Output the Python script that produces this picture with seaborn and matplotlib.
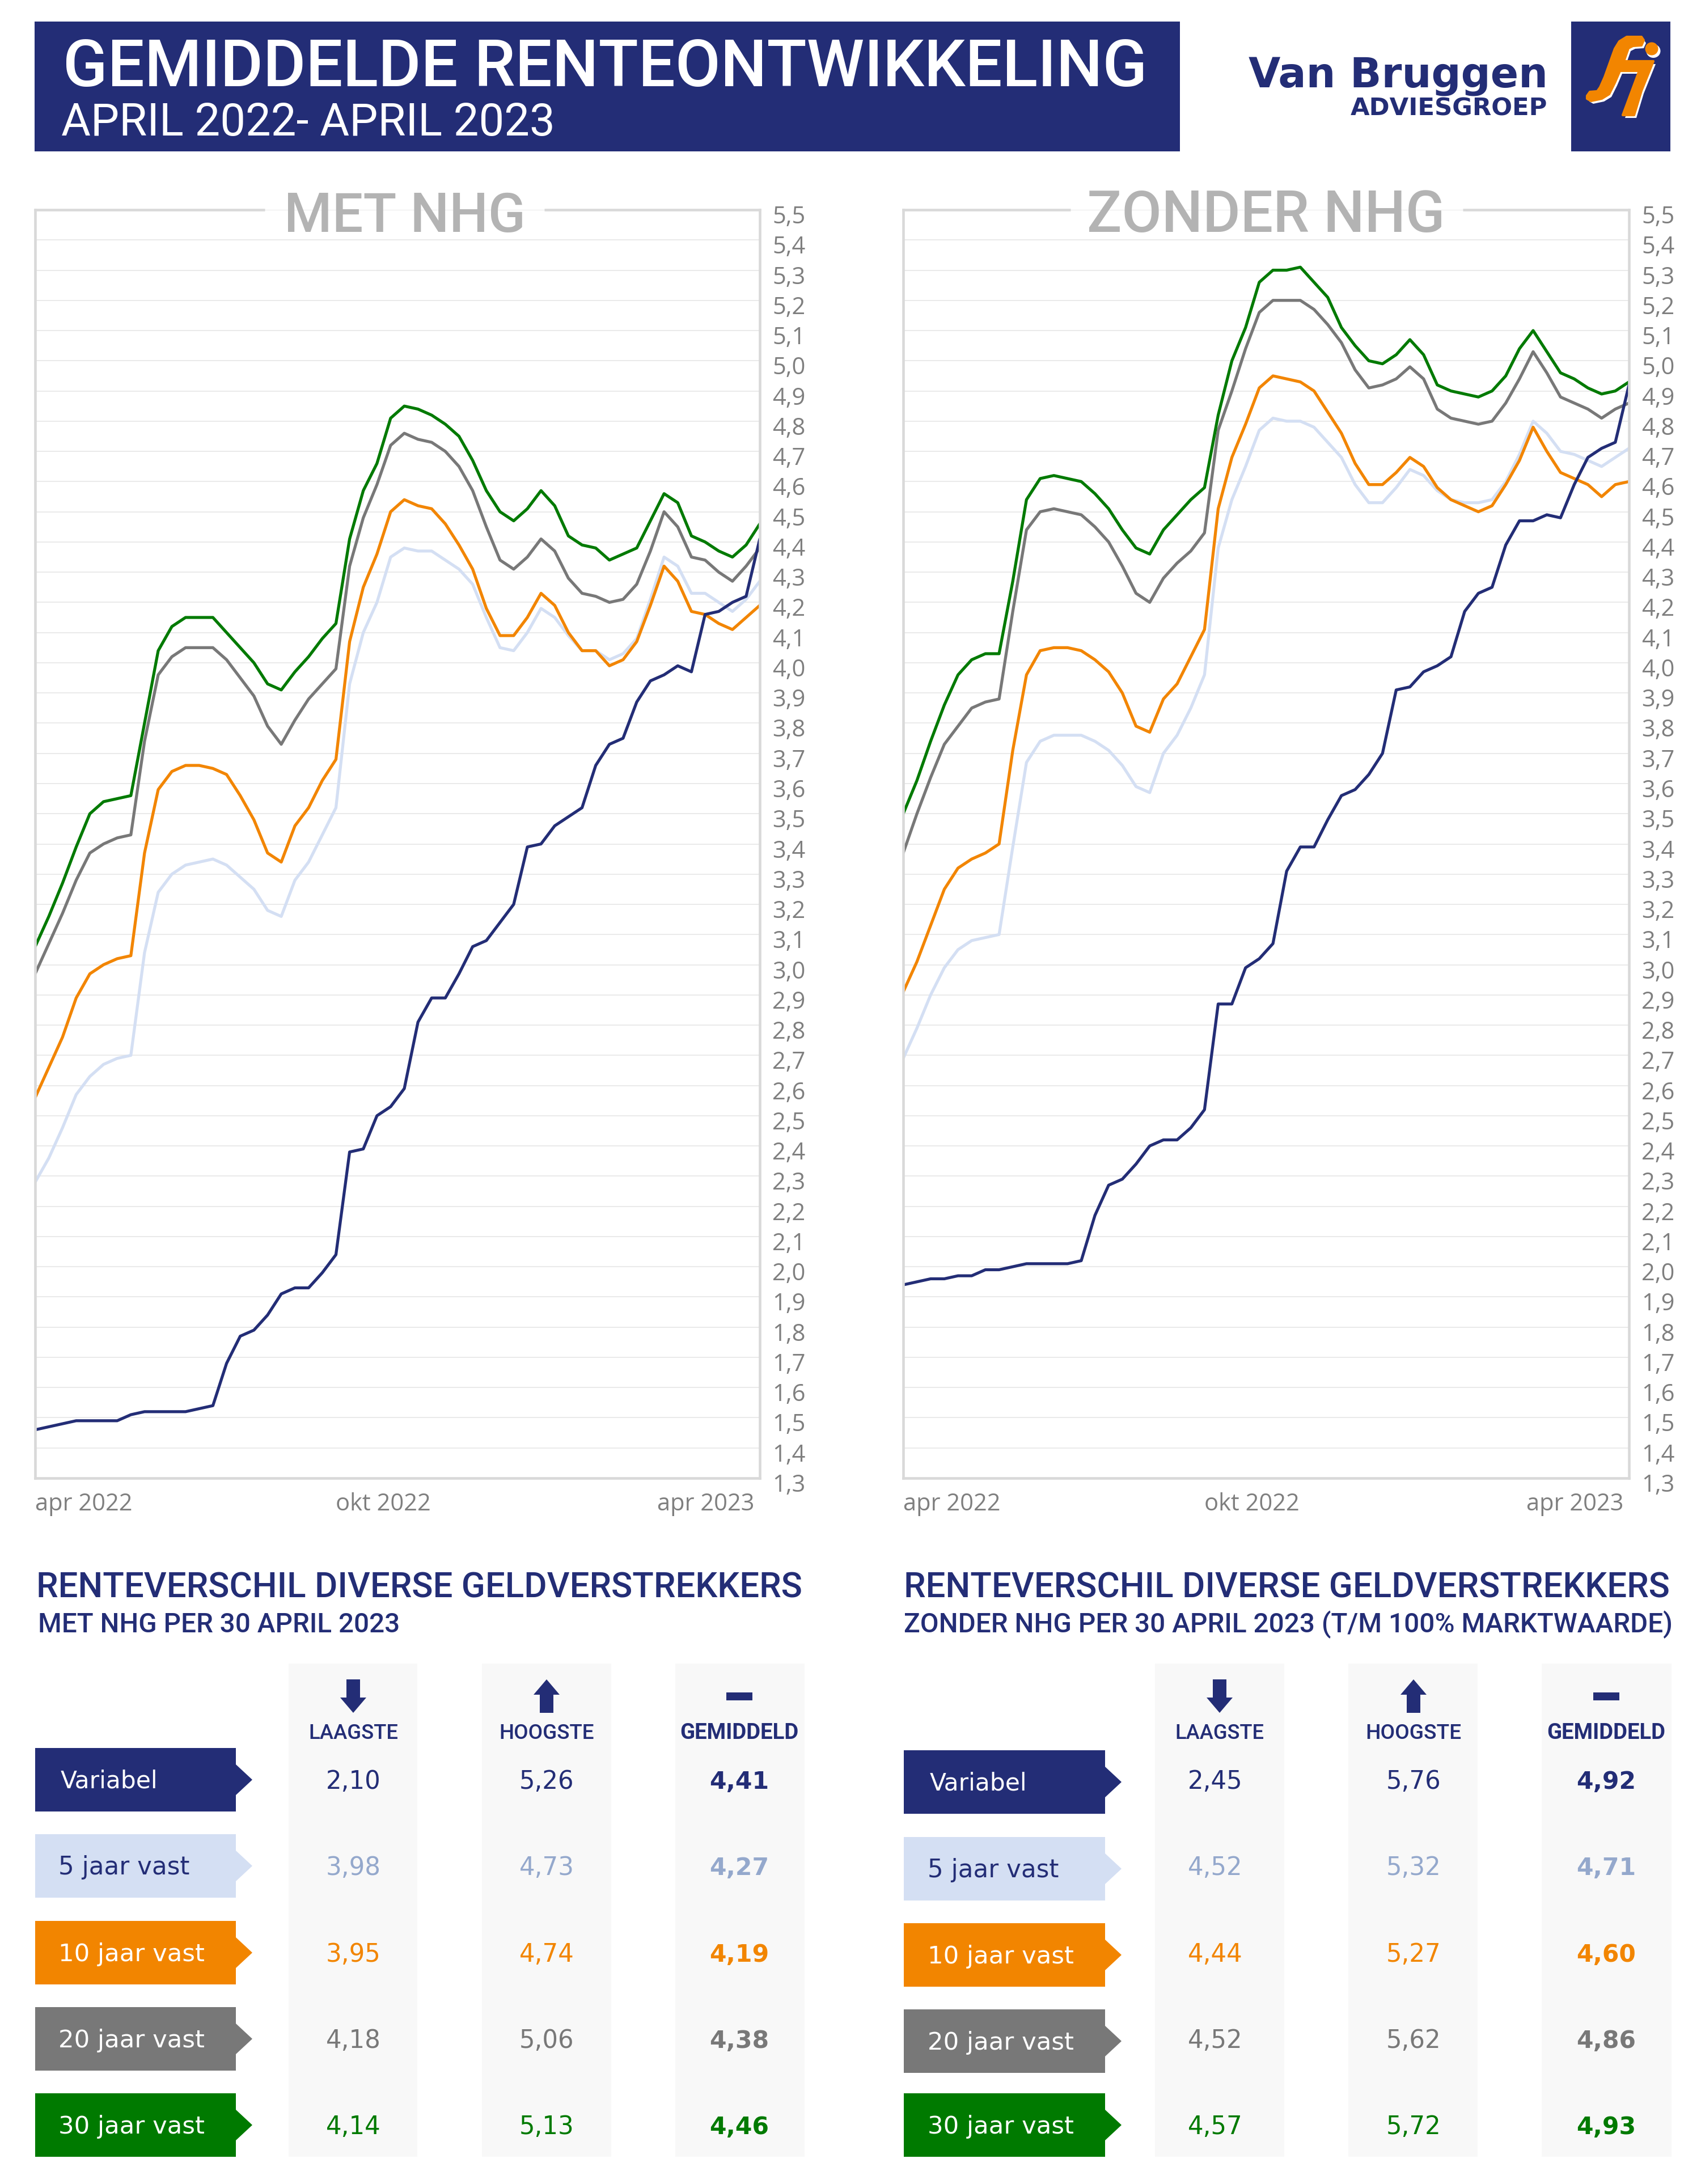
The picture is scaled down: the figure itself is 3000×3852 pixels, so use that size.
import numpy as np
import pandas as pd
import matplotlib
matplotlib.use('Agg')
import matplotlib.pyplot as plt
import matplotlib.transforms as mtrans
from matplotlib.patches import Polygon, Rectangle, Ellipse
import seaborn as sns

# --- kleuren ---
NAVY = '#232d76'
LIGHT = '#d4dff3'
ORANGE = '#f28500'
GREY = '#787878'
GREEN = '#007a00'
SOFT_BLUE = '#94a8cc'
SERIES_NAMES = ['5 jaar vast', '10 jaar vast', '20 jaar vast', '30 jaar vast', 'Variabel']
SERIES_COLORS = [LIGHT, ORANGE, GREY, GREEN, NAVY]

# --- grafiek MET NHG (wekelijks) ---
met_var = [1.46, 1.47, 1.48, 1.49, 1.49, 1.49, 1.49, 1.51, 1.52, 1.52, 1.52, 1.52, 1.53, 1.54, 1.68, 1.77, 1.79, 1.84,
           1.91, 1.93, 1.93, 1.98, 2.04, 2.38, 2.39, 2.50, 2.53, 2.59, 2.81, 2.89, 2.89, 2.97, 3.06, 3.08, 3.14, 3.20,
           3.39, 3.40, 3.46, 3.49, 3.52, 3.66, 3.73, 3.75, 3.87, 3.94, 3.96, 3.99, 3.97, 4.16, 4.17, 4.20, 4.22, 4.41]
met_5 = [2.28, 2.36, 2.46, 2.57, 2.63, 2.67, 2.69, 2.70, 3.04, 3.24, 3.30, 3.33, 3.34, 3.35, 3.33, 3.29, 3.25, 3.18,
         3.16, 3.28, 3.34, 3.43, 3.52, 3.93, 4.10, 4.20, 4.35, 4.38, 4.37, 4.37, 4.34, 4.31, 4.26, 4.15, 4.05, 4.04,
         4.10, 4.18, 4.15, 4.09, 4.04, 4.04, 4.01, 4.03, 4.08, 4.21, 4.35, 4.32, 4.23, 4.23, 4.20, 4.17, 4.21, 4.27]
met_10 = [2.56, 2.66, 2.76, 2.89, 2.97, 3.00, 3.02, 3.03, 3.37, 3.58, 3.64, 3.66, 3.66, 3.65, 3.63, 3.56, 3.48, 3.37,
          3.34, 3.46, 3.52, 3.61, 3.68, 4.07, 4.25, 4.36, 4.50, 4.54, 4.52, 4.51, 4.46, 4.39, 4.31, 4.18, 4.09, 4.09,
          4.15, 4.23, 4.19, 4.10, 4.04, 4.04, 3.99, 4.01, 4.07, 4.19, 4.32, 4.27, 4.17, 4.16, 4.13, 4.11, 4.15, 4.19]
met_20 = [2.97, 3.07, 3.17, 3.28, 3.37, 3.40, 3.42, 3.43, 3.74, 3.96, 4.02, 4.05, 4.05, 4.05, 4.01, 3.95, 3.89, 3.79,
          3.73, 3.81, 3.88, 3.93, 3.98, 4.32, 4.48, 4.59, 4.72, 4.76, 4.74, 4.73, 4.70, 4.65, 4.57, 4.45, 4.34, 4.31,
          4.35, 4.41, 4.37, 4.28, 4.23, 4.22, 4.20, 4.21, 4.26, 4.37, 4.50, 4.45, 4.35, 4.34, 4.30, 4.27, 4.32, 4.38]
met_30 = [3.06, 3.16, 3.27, 3.39, 3.50, 3.54, 3.55, 3.56, 3.80, 4.04, 4.12, 4.15, 4.15, 4.15, 4.10, 4.05, 4.00, 3.93,
          3.91, 3.97, 4.02, 4.08, 4.13, 4.41, 4.57, 4.66, 4.81, 4.85, 4.84, 4.82, 4.79, 4.75, 4.67, 4.57, 4.50, 4.47,
          4.51, 4.57, 4.52, 4.42, 4.39, 4.38, 4.34, 4.36, 4.38, 4.47, 4.56, 4.53, 4.42, 4.40, 4.37, 4.35, 4.39, 4.46]

# --- grafiek ZONDER NHG ---
zon_var = [1.94, 1.95, 1.96, 1.96, 1.97, 1.97, 1.99, 1.99, 2.00, 2.01, 2.01, 2.01, 2.01, 2.02, 2.17, 2.27, 2.29, 2.34,
           2.40, 2.42, 2.42, 2.46, 2.52, 2.87, 2.87, 2.99, 3.02, 3.07, 3.31, 3.39, 3.39, 3.48, 3.56, 3.58, 3.63, 3.70,
           3.91, 3.92, 3.97, 3.99, 4.02, 4.17, 4.23, 4.25, 4.39, 4.47, 4.47, 4.49, 4.48, 4.59, 4.68, 4.71, 4.73, 4.92]
zon_5 = [2.69, 2.79, 2.90, 2.99, 3.05, 3.08, 3.09, 3.10, 3.39, 3.67, 3.74, 3.76, 3.76, 3.76, 3.74, 3.71, 3.66, 3.59,
         3.57, 3.70, 3.76, 3.85, 3.96, 4.38, 4.54, 4.65, 4.77, 4.81, 4.80, 4.80, 4.78, 4.73, 4.68, 4.59, 4.53, 4.53,
         4.58, 4.64, 4.62, 4.57, 4.54, 4.53, 4.53, 4.54, 4.60, 4.69, 4.80, 4.76, 4.70, 4.69, 4.67, 4.65, 4.68, 4.71]
zon_10 = [2.91, 3.01, 3.13, 3.25, 3.32, 3.35, 3.37, 3.40, 3.71, 3.96, 4.04, 4.05, 4.05, 4.04, 4.01, 3.97, 3.90, 3.79,
          3.77, 3.88, 3.93, 4.02, 4.11, 4.51, 4.68, 4.79, 4.91, 4.95, 4.94, 4.93, 4.90, 4.83, 4.76, 4.66, 4.59, 4.59,
          4.63, 4.68, 4.65, 4.58, 4.54, 4.52, 4.50, 4.52, 4.59, 4.67, 4.78, 4.70, 4.63, 4.61, 4.59, 4.55, 4.59, 4.60]
zon_20 = [3.37, 3.50, 3.62, 3.73, 3.79, 3.85, 3.87, 3.88, 4.17, 4.44, 4.50, 4.51, 4.50, 4.49, 4.45, 4.40, 4.32, 4.23,
          4.20, 4.28, 4.33, 4.37, 4.43, 4.77, 4.90, 5.04, 5.16, 5.20, 5.20, 5.20, 5.17, 5.12, 5.06, 4.97, 4.91, 4.92,
          4.94, 4.98, 4.94, 4.84, 4.81, 4.80, 4.79, 4.80, 4.86, 4.94, 5.03, 4.96, 4.88, 4.86, 4.84, 4.81, 4.84, 4.86]
zon_30 = [3.50, 3.61, 3.74, 3.86, 3.96, 4.01, 4.03, 4.03, 4.27, 4.54, 4.61, 4.62, 4.61, 4.60, 4.56, 4.51, 4.44, 4.38,
          4.36, 4.44, 4.49, 4.54, 4.58, 4.82, 5.00, 5.11, 5.26, 5.30, 5.30, 5.31, 5.26, 5.21, 5.11, 5.05, 5.00, 4.99,
          5.02, 5.07, 5.02, 4.92, 4.90, 4.89, 4.88, 4.90, 4.95, 5.04, 5.10, 5.03, 4.96, 4.94, 4.91, 4.89, 4.90, 4.93]

# --- assen ---
y_ticks = [1.3, 1.4, 1.5, 1.6, 1.7, 1.8, 1.9, 2.0, 2.1, 2.2, 2.3, 2.4, 2.5, 2.6, 2.7, 2.8, 2.9, 3.0, 3.1, 3.2, 3.3,
           3.4, 3.5, 3.6, 3.7, 3.8, 3.9, 4.0, 4.1, 4.2, 4.3, 4.4, 4.5, 4.6, 4.7, 4.8, 4.9, 5.0, 5.1, 5.2, 5.3, 5.4, 5.5]
x_tick_pos = [0, 22, 45.5]
x_tick_labels = ['apr 2022', 'okt 2022', 'apr 2023']

# --- tabellen ---
row_labels = ['Variabel', '5 jaar vast', '10 jaar vast', '20 jaar vast', '30 jaar vast']
row_colors = [NAVY, LIGHT, ORANGE, GREY, GREEN]
value_colors = [NAVY, SOFT_BLUE, ORANGE, GREY, GREEN]
met_low = ['2,10', '3,98', '3,95', '4,18', '4,14']
met_high = ['5,26', '4,73', '4,74', '5,06', '5,13']
met_avg = ['4,41', '4,27', '4,19', '4,38', '4,46']
zon_low = ['2,45', '4,52', '4,44', '4,52', '4,57']
zon_high = ['5,76', '5,32', '5,27', '5,62', '5,72']
zon_avg = ['4,92', '4,71', '4,60', '4,86', '4,93']

W, H = 3000, 3852
DIN = 'Roboto'
sns.set_theme(style='white')
plt.rcParams['font.family'] = ['Open Sans', 'DejaVu Sans']

fig = plt.figure(figsize=(W / 300, H / 300), dpi=300, facecolor='white')
over = fig.add_axes([0, 0, 1, 1], zorder=5)
over.set_xlim(0, W)
over.set_ylim(H, 0)
over.axis('off')
over.patch.set_alpha(0)


def put(s, x, y, px, color, width=None, ha='left', family='Open Sans', weight='normal', **kw):
    """Tekst in pixels, y is de basislijn; met width wordt de grootte passend gemaakt."""
    t = over.text(x, y, s, fontsize=px * 72 / 300, color=color, ha=ha, va='baseline',
                  family=family, fontweight=weight, **kw)
    if width:
        ext = t.get_window_extent(fig.canvas.get_renderer())
        t.set_fontsize(t.get_fontsize() * width / ext.width)
    return t


def box(x0, y0, x1, y1, color, zorder=1):
    over.add_patch(Rectangle((x0, y0), x1 - x0, y1 - y0, facecolor=color, edgecolor='none', zorder=zorder))


def draw_chart(left, right, series, gap):
    ax = fig.add_axes([left / W, 1 - 2607 / H, (right - left) / W, (2607 - 370) / H], zorder=2)
    n = len(series[0])
    frames = []
    for name, vals in zip(SERIES_NAMES, series):
        frames.append(pd.DataFrame({'week': range(n), 'rente': vals, 'type': name}))
    df = pd.concat(frames)

    sns.lineplot(data=df, x='week', y='rente', hue='type', hue_order=SERIES_NAMES, palette=SERIES_COLORS,
                 estimator=None, errorbar=None, linewidth=1.25, legend=False, ax=ax)
    ax.set_xlim(0, n - 1)
    ax.set_ylim(1.3, 5.5)
    ax.set_xlabel('')
    ax.set_ylabel('')

    ax.yaxis.tick_right()
    ax.set_yticks(y_ticks)
    ax.set_yticklabels([f'{v:.1f}'.replace('.', ',') for v in y_ticks])
    ax.tick_params(axis='y', length=0, pad=5.3, labelsize=10, labelcolor='#7f7f7f')
    shift = mtrans.ScaledTranslation(0, -8 / 300, fig.dpi_scale_trans)
    for lab in ax.get_yticklabels():
        lab.set_transform(lab.get_transform() + shift)

    ax.set_xticks(x_tick_pos)
    ax.set_xticklabels(x_tick_labels, ha='left')
    ax.tick_params(axis='x', length=0, pad=6, labelsize=10, labelcolor='#7f7f7f')

    ax.grid(axis='y', color='#e9e9e9', linewidth=0.45)
    ax.set_axisbelow(True)
    for side in ['left', 'right', 'bottom']:
        ax.spines[side].set_color('#d9d9d9')
        ax.spines[side].set_linewidth(1.1)
    ax.spines['top'].set_visible(False)
    # bovenrand loopt niet door achter de titel
    over.plot([left - 2, gap[0]], [370, 370], color='#d9d9d9', lw=1.1, solid_capstyle='butt')
    over.plot([gap[1], right + 2], [370, 370], color='#d9d9d9', lw=1.1, solid_capstyle='butt')


def draw_table(title, sub, title_x, title_w, sub_x, sub_w, x0, x1, tops, col_edges, label_x, low, high, avg,
               centers, value_x, head_widths):
    put(title, title_x, 2818, 64, NAVY, width=title_w, family=DIN, weight='medium')
    put(sub, sub_x, 2879, 50, NAVY, width=sub_w, family=DIN, weight='medium')
    for e0, e1 in col_edges:
        box(e0, 2934, e1, 3804, '#f8f8f8', zorder=0)

    # kopjes met pijl en streep
    c = centers[0]
    over.add_patch(Polygon([(c - 12, 2962), (c + 12, 2962), (c + 12, 2994), (c + 23, 2994), (c, 3021), (c - 23, 2994),
                            (c - 12, 2994)], facecolor=NAVY, edgecolor='none'))
    c = centers[1]
    over.add_patch(Polygon([(c - 12, 3021), (c + 12, 3021), (c + 12, 2989), (c + 23, 2989), (c, 2962), (c - 23, 2989),
                            (c - 12, 2989)], facecolor=NAVY, edgecolor='none'))
    box(centers[2] - 23, 2985, centers[2] + 23, 2999, NAVY, zorder=2)
    put('LAAGSTE', centers[0], 3067, 40, NAVY, width=head_widths[0], ha='center', family=DIN, weight='medium')
    put('HOOGSTE', centers[1], 3067, 40, NAVY, width=head_widths[1], ha='center', family=DIN, weight='medium')
    put('GEMIDDELD', centers[2], 3067, 40, NAVY, width=head_widths[2], ha='center', family=DIN, weight='bold')

    label_w = [172, 232, 258, 258, 258]
    for i, name in enumerate(row_labels):
        top = tops[i]
        bot = top + 112
        over.add_patch(Polygon([(x0, top), (x1, top), (x1, top + 29), (x1 + 29, top + 56), (x1, bot - 29), (x1, bot),
                                (x0, bot)], facecolor=row_colors[i], edgecolor='none'))
        fg = NAVY if name.startswith('5 ') else 'white'
        put(name, label_x + (4 if name == 'Variabel' else 0), top + 71, 42, fg, width=label_w[i],
            family='DejaVu Sans')
        base = [3155, 3307, 3460, 3612, 3764][i]
        put(low[i], value_x[0], base, 44, value_colors[i], width=97, ha='center', family='DejaVu Sans')
        put(high[i], value_x[1], base, 44, value_colors[i], width=97, ha='center', family='DejaVu Sans')
        put(avg[i], value_x[2], base, 44, value_colors[i], width=105, ha='center', family='DejaVu Sans',
            weight='bold')


# --- kop ---
box(61, 38, 2081, 267, NAVY)
put('GEMIDDELDE RENTEONTWIKKELING', 111, 152, 116, 'white', width=1913, family='Roboto', weight='medium')
put('APRIL 2022- APRIL 2023', 108, 239, 76, 'white', width=871, family='Roboto')
put('Van Bruggen', 2202, 154, 74, NAVY, width=528, family='DejaVu Sans', weight='bold')
put('ADVIESGROEP', 2382, 204, 38, NAVY, width=348, family='DejaVu Sans', weight='bold')

box(2771, 38, 2946, 267, NAVY)
fi_shape = [(2799, 169), (2804, 162), (2817, 161), (2822, 154), (2830, 136), (2848, 86), (2856, 73), (2869, 65),
            (2895, 65), (2899, 71), (2895, 80), (2880, 81), (2872, 85), (2864, 108), (2916, 108), (2895, 160),
            (2882, 203), (2862, 203), (2891, 125), (2857, 125), (2848, 146), (2838, 166), (2825, 174), (2806, 178),
            (2799, 174)]
over.add_patch(Polygon([(x + 4, y + 5) for x, y in fi_shape], facecolor='white', edgecolor='none', zorder=2))
over.add_patch(Polygon(fi_shape, facecolor=ORANGE, edgecolor=ORANGE, lw=1, joinstyle='round', zorder=3))
over.add_patch(Ellipse((2916, 90), 25, 24, facecolor='white', edgecolor='none', zorder=2))
over.add_patch(Ellipse((2913, 86), 23, 23, facecolor=ORANGE, edgecolor='none', zorder=3))

# --- grafieken ---
draw_chart(62, 1340, [met_5, met_10, met_20, met_30, met_var], (467, 960))
draw_chart(1593, 2873, [zon_5, zon_10, zon_20, zon_30, zon_var], (1888, 2580))
put('MET NHG', 501, 409, 106, '#b3b3b3', width=426, family='Roboto', weight='medium')
put('ZONDER NHG', 1917, 409, 106, '#b3b3b3', width=632, family='Roboto', weight='medium')

# --- tabellen ---
draw_table('RENTEVERSCHIL DIVERSE GELDVERSTREKKERS', 'MET NHG PER 30 APRIL 2023', 64, 1352, 67, 638,
           62, 416, [3083, 3235, 3388, 3540, 3692], [(509, 736), (850, 1078), (1191, 1419)], 103,
           met_low, met_high, met_avg, [623, 964, 1304], [623, 964, 1304], [158, 168, 210])
draw_table('RENTEVERSCHIL DIVERSE GELDVERSTREKKERS', 'ZONDER NHG PER 30 APRIL 2023 (T/M 100% MARKTWAARDE)', 1594, 1350,
           1594, 1356, 1594, 1949, [3087, 3240, 3392, 3544, 3692], [(2037, 2265), (2378, 2606), (2719, 2948)], 1636,
           zon_low, zon_high, zon_avg, [2151, 2493, 2833], [2143, 2493, 2833], [157, 169, 209])

fig.savefig('out.png', dpi=300, facecolor='white')
